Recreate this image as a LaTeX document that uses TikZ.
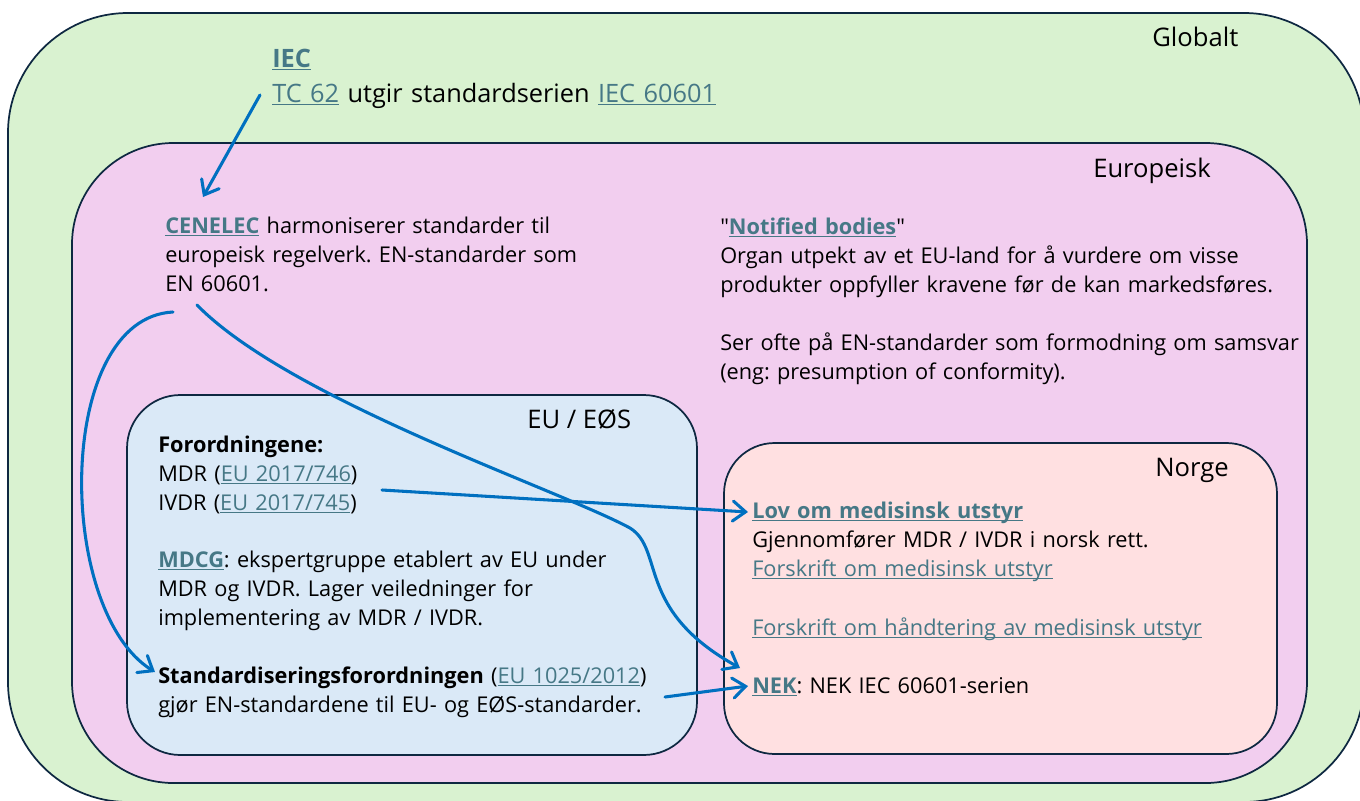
\documentclass[tikz,border=0pt]{standalone}
\usepackage{fontspec}
\newfontfamily\aptfont{Open Sans}
\usetikzlibrary{arrows.meta,calc}
\definecolor{frame}{HTML}{0E2841}
\definecolor{glbfill}{HTML}{D9F2D0}
\definecolor{eurfill}{HTML}{F2CEEF}
\definecolor{eufill}{HTML}{DAE9F7}
\definecolor{norfill}{HTML}{FFE0E1}
\definecolor{linkc}{HTML}{467886}
\definecolor{arrc}{HTML}{0070C0}
\newsavebox{\lnkbox}
\newcommand{\lnk}[1]{\sbox{\lnkbox}{#1}\textcolor{linkc}{\rlap{\rule[-2.6pt]{\wd\lnkbox}{0.75pt}}#1}}
\newcommand{\lnkb}[1]{\lnk{\textbf{#1}}}
\tikzset{
  zone/.style={draw=frame,line width=1.3pt},
  ttl/.style={font=\aptfont\frenchspacing\fontsize{19.2}{26.25}\selectfont,inner sep=0pt,anchor=base west},
  txt/.style={font=\aptfont\frenchspacing\fontsize{16.3}{21.75}\selectfont,inner sep=0pt,anchor=base west,text width=520pt,align=left},
  flow/.style={draw=arrc,line width=2.3pt,line cap=round,-{Straight Barb[length=9.5pt,width=15pt,line cap=round]}}
}
\begin{document}
\begin{tikzpicture}[x=0.75pt,y=-0.75pt]
\useasboundingbox (0,0) rectangle (1360,800);
%zones
\draw[zone,fill=glbfill,rounded corners=90pt](8,13) rectangle (1364,802);
\draw[zone,fill=eurfill,rounded corners=76pt](72,143) rectangle (1307,783);
\draw[zone,fill=eufill,rounded corners=40pt](127,395) rectangle (697,755);
\draw[zone,fill=norfill,rounded corners=38pt](724,443) rectangle (1277,754);
%zone titles
\node[ttl] (glob) at(1152,46){Globalt};
\node[ttl] (euro) at(1093,177){Europeisk};
\node[ttl] (eueos) at(527,428){EU / EØS};
\node[ttl] (norge) at(1155,476){Norge};
%texts
\node[txt,font=\aptfont\fontsize{19}{26.25}\selectfont] (iec) at(272,67){\lnkb{IEC}\\\lnk{TC 62} utgir standardserien \lnk{IEC 60601}};
\node[txt] (cen) at(165,233){\lnkb{CENELEC} harmoniserer standarder til\\europeisk regelverk. EN-standarder som\\EN 60601.};
\node[txt] (nb) at(720,234){"\lnkb{Notified bodies}"\\Organ utpekt av et EU-land for å vurdere om visse\\produkter oppfyller kravene før de kan markedsføres.\\[21.75pt]Ser ofte på EN-standarder som formodning om samsvar\\(eng: presumption of conformity).};
\node[txt] (forord) at(158,452){\textbf{Forordningene:}\\MDR (\lnk{EU 2017/746})\\IVDR (\lnk{EU 2017/745})};
\node[txt] (mdcg) at(158,567){\lnkb{MDCG}: ekspertgruppe etablert av EU under\\MDR og IVDR. Lager veiledninger for\\implementering av MDR / IVDR.};
\node[txt] (std) at(158,683){\textbf{Standardiseringsforordningen} (\lnk{EU 1025/2012})\\gjør EN-standardene til EU- og EØS-standarder.};
\node[txt] (lov) at(752,518){\lnkb{Lov om medisinsk utstyr}\\Gjennomfører MDR / IVDR i norsk rett.\\\lnk{Forskrift om medisinsk utstyr}};
\node[txt] (hand) at(752,635){\lnk{Forskrift om håndtering av medisinsk utstyr}};
\node[txt] (nek) at(752,693){\lnkb{NEK}: NEK IEC 60601-serien};
%arrows
\draw[flow]($(iec.base west)+(-12,28)$)--($(cen.base west)+(38,-36)$);
\draw[flow]($(cen.base west)+(8,79)$) .. controls (55,318) and (55,610) .. ($(std.base west)+(-3,-11)$);
\draw[flow]($(cen.base west)+(32,72)$) .. controls (290,400) and (560,490) .. (630,528)
  .. controls (665,550) and (635,610) .. ($(nek.base west)+(-12,-25)$);
\draw[flow]($(forord.base west)+(224,38)$)--($(lov.base west)+(-4,-6)$);
\draw[flow]($(std.base west)+(507,14)$)--($(nek.base west)+(-4,-7)$);
\end{tikzpicture}
\end{document}
